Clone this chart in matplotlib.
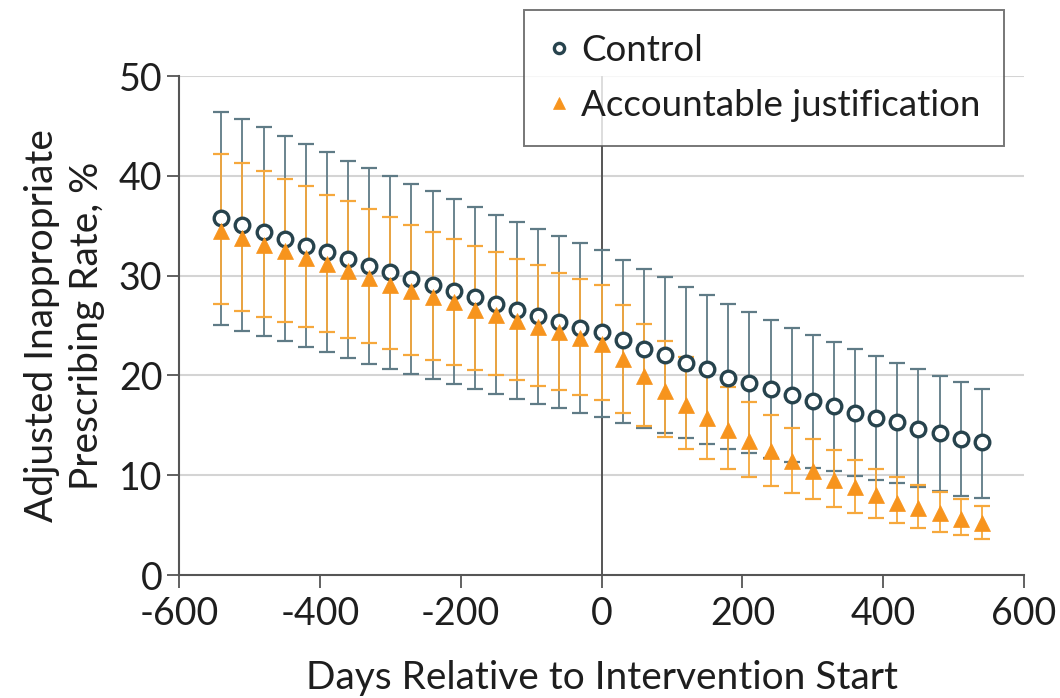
"""
Adjusted inappropriate prescribing rate, control vs accountable justification.
"""

import matplotlib
matplotlib.use('Agg')
from matplotlib import pyplot as plt

days = [-540, -510, -480, -450, -420, -390, -360, -330, -300, -270, -240, -210,
        -180, -150, -120, -90, -60, -30, 0, 30, 60, 90, 120, 150, 180, 210,
        240, 270, 300, 330, 360, 390, 420, 450, 480, 510, 540]

control_mean = [35.8, 35.1, 34.4, 33.7, 33.0, 32.4, 31.7, 31.0, 30.4, 29.7, 29.1, 28.5,
                27.9, 27.2, 26.6, 26.0, 25.4, 24.8, 24.3, 23.5, 22.6, 22.0, 21.2, 20.6,
                19.7, 19.2, 18.6, 18.0, 17.4, 16.9, 16.2, 15.7, 15.3, 14.6, 14.2, 13.6, 13.3]
control_upper = [46.4, 45.7, 44.9, 44.0, 43.2, 42.4, 41.5, 40.8, 40.0, 39.2, 38.5, 37.7,
                 36.9, 36.1, 35.4, 34.7, 34.0, 33.3, 32.6, 31.6, 30.7, 29.9, 28.9, 28.1,
                 27.2, 26.4, 25.6, 24.8, 24.0, 23.3, 22.6, 21.9, 21.2, 20.6, 19.9, 19.3, 18.6]
control_lower = [25.1, 24.5, 23.9, 23.4, 22.8, 22.3, 21.7, 21.1, 20.6, 20.1, 19.6, 19.1,
                 18.6, 18.1, 17.6, 17.1, 16.7, 16.2, 15.8, 15.2, 14.7, 14.2, 13.7, 13.1,
                 12.6, 12.2, 11.7, 11.3, 10.7, 10.4, 9.9, 9.5, 9.2, 8.8, 8.4, 7.9, 7.7]

aj_mean = [34.5, 33.8, 33.1, 32.5, 31.8, 31.2, 30.5, 29.8, 29.1, 28.5, 27.9, 27.4,
           26.6, 26.1, 25.5, 24.9, 24.3, 23.7, 23.1, 21.6, 19.9, 18.4, 17.0, 15.7,
           14.5, 13.4, 12.4, 11.4, 10.4, 9.5, 8.8, 8.0, 7.2, 6.7, 6.2, 5.6, 5.2]
aj_upper = [42.2, 41.3, 40.5, 39.7, 39.0, 38.1, 37.5, 36.7, 35.9, 35.1, 34.4, 33.7,
            33.0, 32.4, 31.7, 31.1, 30.3, 29.7, 29.1, 27.1, 25.2, 23.4, 21.8, 20.3,
            18.8, 17.3, 16.0, 14.7, 13.6, 12.5, 11.5, 10.6, 9.8, 9.0, 8.3, 7.6, 6.9]
aj_lower = [27.2, 26.5, 25.9, 25.4, 24.9, 24.3, 23.7, 23.2, 22.6, 22.0, 21.5, 21.0,
            20.5, 20.0, 19.5, 18.9, 18.5, 18.0, 17.5, 16.2, 14.9, 13.8, 12.6, 11.6,
            10.6, 9.8, 8.9, 8.2, 7.6, 6.8, 6.2, 5.7, 5.2, 4.7, 4.3, 4.0, 3.6]

x_ticks = [-600, -400, -200, 0, 200, 400, 600]
y_ticks = [0, 10, 20, 30, 40, 50]

plt.rcParams['font.family'] = ['Lato', 'DejaVu Sans']

DARK = '#27434d'
DARK_BAR = '#5f7b86'
ORANGE = '#f7941d'
ORANGE_BAR = '#f6a83c'
AXIS = '#555555'
TEXT = '#1e1e1e'


def plot_rates():
    fig = plt.figure(figsize=(10.6, 6.98), dpi=100)
    ax = fig.add_axes([0.1689, 0.1762, 0.7972, 0.7149])

    c_err = [[m - l for m, l in zip(control_mean, control_lower)],
             [u - m for m, u in zip(control_mean, control_upper)]]
    a_err = [[m - l for m, l in zip(aj_mean, aj_lower)],
             [u - m for m, u in zip(aj_mean, aj_upper)]]

    ax.errorbar(days, control_mean, yerr=c_err, fmt='none', ecolor=DARK_BAR,
                elinewidth=1.3, capsize=6, capthick=1.6, zorder=3)
    ax.errorbar(days, aj_mean, yerr=a_err, fmt='none', ecolor=ORANGE_BAR,
                elinewidth=1.3, capsize=6, capthick=1.6, zorder=3)
    ax.plot(days, control_mean, linestyle='none', marker='o', ms=10.5, mfc='white',
            mec=DARK, mew=2.4, zorder=4, label='Control')
    ax.plot(days, aj_mean, linestyle='none', marker='^', ms=11.5, mfc=ORANGE,
            mec=ORANGE, mew=0.5, zorder=5, label='Accountable justification')

    ax.axvline(0, color=AXIS, lw=1.4, zorder=2)
    for y in y_ticks[1:]:
        ax.axhline(y, color='#d4d4d4', lw=1.5, zorder=1)

    ax.set_xlim(-600, 600)
    ax.set_ylim(0, 50)
    ax.set_xticks(x_ticks)
    ax.set_xticklabels([str(t) for t in x_ticks])
    ax.set_yticks(y_ticks)
    for side in ['top', 'right']:
        ax.spines[side].set_visible(False)
    for side in ['left', 'bottom']:
        ax.spines[side].set_color(AXIS)
        ax.spines[side].set_linewidth(1.5)
    ax.tick_params(axis='both', direction='out', length=9, width=1.3, color=AXIS,
                   labelsize=27, labelcolor=TEXT)
    ax.tick_params(axis='x', pad=6)
    ax.tick_params(axis='y', pad=3)

    ax.set_xlabel('Days Relative to Intervention Start', fontsize=28, color=TEXT,
                  labelpad=20)
    ax.set_ylabel('Adjusted Inappropriate\nPrescribing Rate, %', fontsize=28,
                  color=TEXT, labelpad=10, linespacing=1.3)

    leg = ax.legend(loc='upper left', bbox_to_anchor=(524 / 1060, 1 - 10 / 698),
                    bbox_transform=fig.transFigure, fontsize=26.5, frameon=True,
                    fancybox=False, edgecolor=AXIS, handlelength=0.6, handletextpad=0.3,
                    borderpad=0.65, labelspacing=0.6, markerscale=0.7,
                    borderaxespad=0)
    leg.get_frame().set_linewidth(1.4)
    leg.set_zorder(10)
    for t in leg.get_texts():
        t.set_color(TEXT)

    fig.savefig('out.png', dpi=100)


if __name__ == '__main__':
    plot_rates()
